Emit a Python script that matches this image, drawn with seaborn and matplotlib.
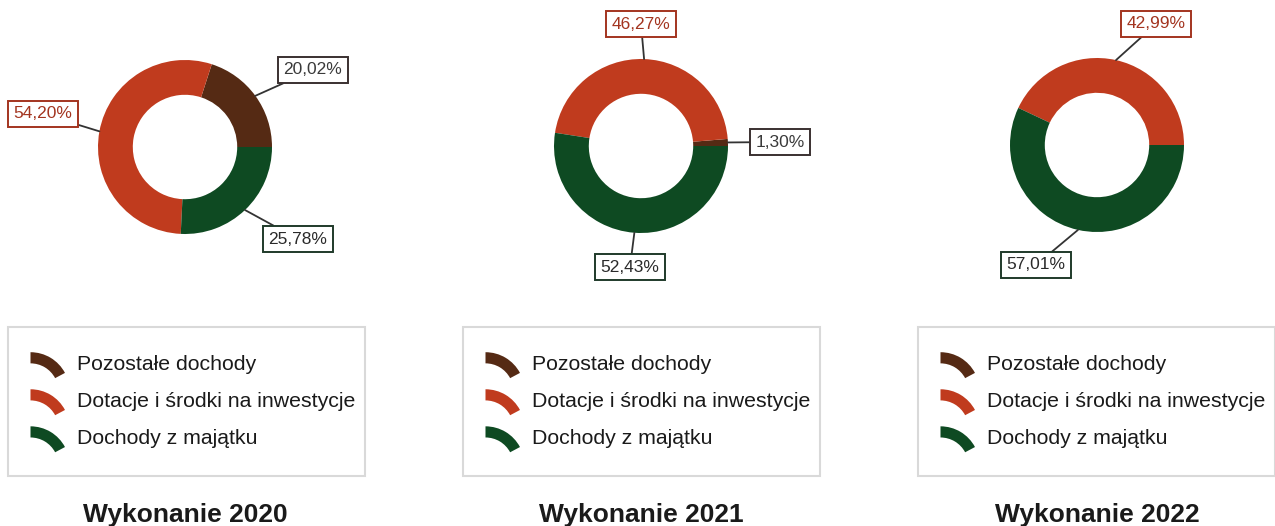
import numpy as np
import pandas as pd
import matplotlib
matplotlib.use("Agg")
import matplotlib.pyplot as plt
import seaborn as sns
from matplotlib.patches import Wedge, Patch
from matplotlib.legend_handler import HandlerPatch

# ---------------- data ----------------
categories = ["Pozostałe dochody", "Dotacje i środki na inwestycje", "Dochody z majątku"]
share_2020 = [20.02, 54.20, 25.78]
share_2021 = [1.30, 46.27, 52.43]
share_2022 = [0.00, 42.99, 57.01]
titles = ["Wykonanie 2020", "Wykonanie 2021", "Wykonanie 2022"]
labels_2020 = ["20,02%", "54,20%", "25,78%"]
labels_2021 = ["1,30%", "46,27%", "52,43%"]
labels_2022 = ["", "42,99%", "57,01%"]

# ---------------- style ----------------
sns.set_theme(style="white")
plt.rcParams['font.family'] = ['Liberation Sans', 'DejaVu Sans']

colors = sns.color_palette(["#552a14", "#c03b1e", "#0e4a22"])
text_colors = ["#3a3a3a", "#a3341f", "#2a2a2a"]
edge_colors = ["#3a3030", "#a3341f", "#1f3a2a"]

W, H = 1275, 526
fig = plt.figure(figsize=(W / 100, H / 100), dpi=100)
fig.patch.set_facecolor("white")

R = 87          # outer radius in px
AW, AH = 400, 300
centers = [(185, 147), (641, 146), (1097, 145)]
label_pos = [
    [(313, 70), (43, 114), (298, 239)],
    [(780, 142), (641, 24), (630, 267)],
    [None, (1156, 24), (1036, 265)],
]
legend_x = [8, 463, 918]
legend_w = 357


class ArcHandler(HandlerPatch):
    def create_artists(self, legend, orig_handle, xdescent, ydescent,
                       width, height, fontsize, trans):
        r = 1.05 * width
        x0 = -xdescent - 4
        top = -ydescent + 1.2 * height
        p = Wedge((x0, top - r), r, 28, 90, width=0.3 * width,
                  facecolor=orig_handle.get_facecolor(), edgecolor="none",
                  transform=trans)
        return [p]


all_shares = [share_2020, share_2021, share_2022]
all_labels = [labels_2020, labels_2021, labels_2022]

for i, (vals, labs) in enumerate(zip(all_shares, all_labels)):
    cx, cy = centers[i]
    ax = fig.add_axes([(cx - AW / 2) / W, 1 - (cy + AH / 2) / H, AW / W, AH / H])
    wedges, _ = ax.pie(vals, colors=colors, startangle=0, counterclock=True,
                       radius=1, wedgeprops=dict(width=0.4, linewidth=0))
    ax.set_xlim(-AW / 2 / R, AW / 2 / R)
    ax.set_ylim(-AH / 2 / R, AH / 2 / R)
    ax.set_aspect("auto")
    ax.axis("off")
    for j, w in enumerate(wedges):
        if vals[j] <= 0 or label_pos[i][j] is None:
            continue
        th = np.deg2rad((w.theta1 + w.theta2) / 2)
        lx, ly = label_pos[i][j]
        ax.annotate(labs[j], xy=(np.cos(th), np.sin(th)),
                    xytext=((lx - cx) / R, -(ly - cy) / R),
                    ha="center", va="center", fontsize=12.5,
                    color=text_colors[j],
                    bbox=dict(boxstyle="square,pad=0.3", fc="white",
                              ec=edge_colors[j], lw=1.4),
                    arrowprops=dict(arrowstyle="-", color="#333333", lw=1.3,
                                    shrinkA=0, shrinkB=0))

    handles = [Patch(facecolor=c) for c in colors]
    leg = ax.legend(handles, categories,
                    bbox_to_anchor=(legend_x[i] / W, 1 - 475 / H, legend_w / W, 148 / H),
                    bbox_transform=fig.transFigure, loc="upper left", mode="expand",
                    borderaxespad=0, fontsize=15.3, labelspacing=0.85,
                    borderpad=1.32, handlelength=1.75, handletextpad=0.2,
                    fancybox=False, frameon=True,
                    handler_map={Patch: ArcHandler()})
    leg.get_frame().set_edgecolor("#d0d0d0")
    leg.get_frame().set_linewidth(1.5)
    for t in leg.get_texts():
        t.set_color("#1a1a1a")

    fig.text(cx / W, 1 - 515 / H, titles[i], ha="center", va="center",
             fontsize=19, fontweight="bold", color="#1a1a1a")

fig.savefig("out.png", dpi=100, facecolor="white")
